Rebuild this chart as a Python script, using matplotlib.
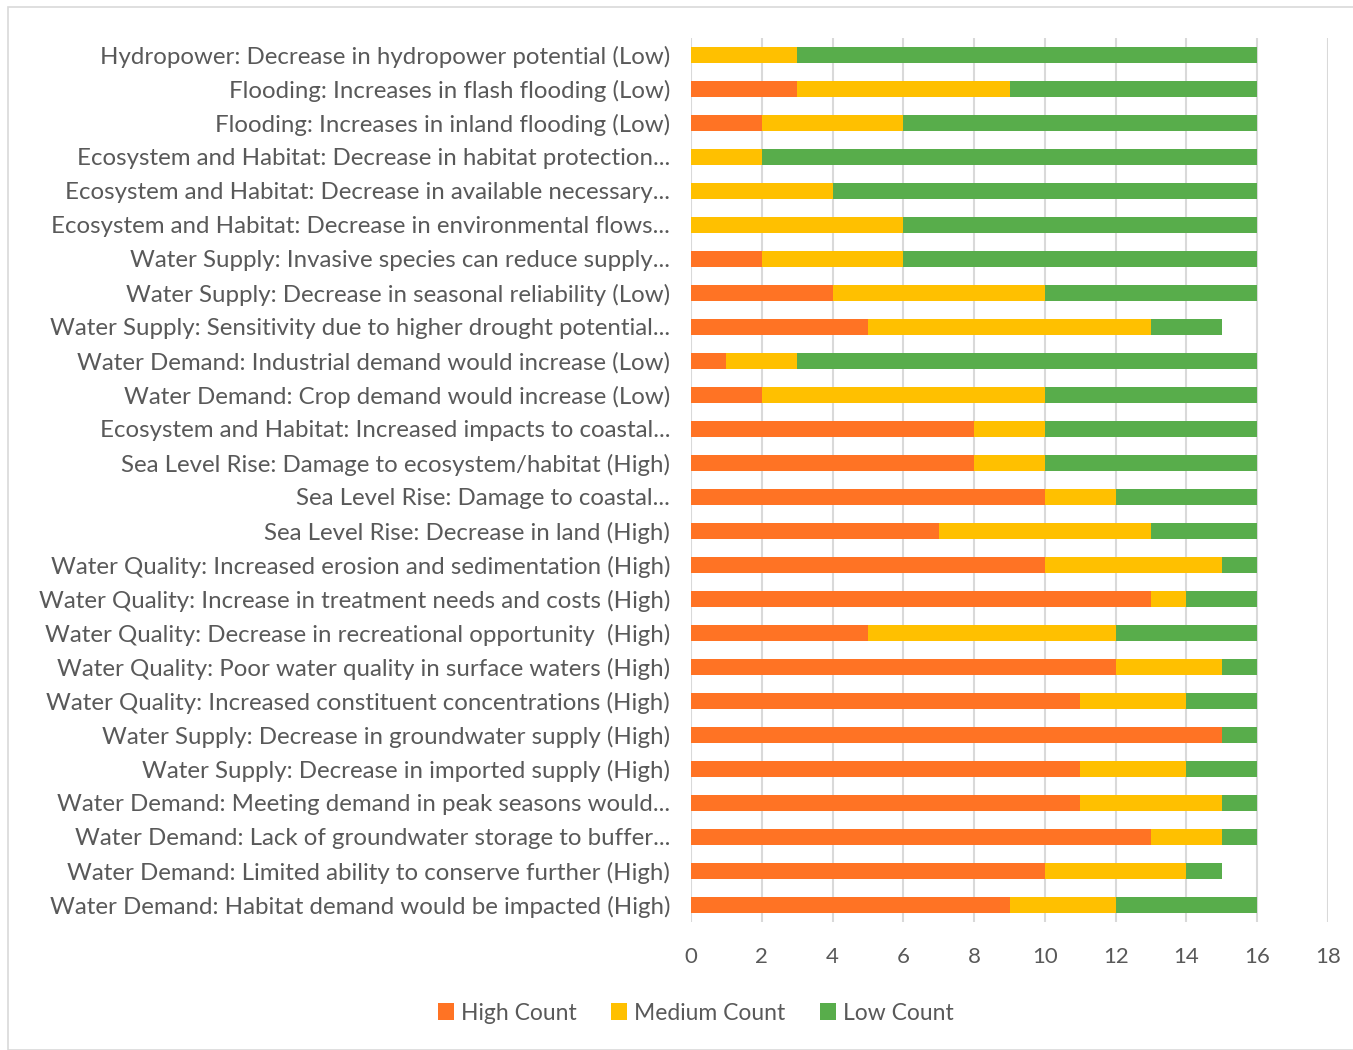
import matplotlib.pyplot as plt
from matplotlib.patches import Rectangle
import numpy as np

# categories listed top to bottom as they appear in the chart
categories = [
    "Hydropower: Decrease in hydropower potential (Low)",
    "Flooding: Increases in flash flooding (Low)",
    "Flooding: Increases in inland flooding (Low)",
    "Ecosystem and Habitat: Decrease in habitat protection...",
    "Ecosystem and Habitat: Decrease in available necessary...",
    "Ecosystem and Habitat: Decrease in environmental flows...",
    "Water Supply: Invasive species can reduce supply...",
    "Water Supply: Decrease in seasonal reliability (Low)",
    "Water Supply: Sensitivity due to higher drought potential...",
    "Water Demand: Industrial demand would increase (Low)",
    "Water Demand: Crop demand would increase (Low)",
    "Ecosystem and Habitat: Increased impacts to coastal...",
    "Sea Level Rise: Damage to ecosystem/habitat (High)",
    "Sea Level Rise: Damage to coastal...",
    "Sea Level Rise: Decrease in land (High)",
    "Water Quality: Increased erosion and sedimentation (High)",
    "Water Quality: Increase in treatment needs and costs (High)",
    "Water Quality: Decrease in recreational opportunity  (High)",
    "Water Quality: Poor water quality in surface waters (High)",
    "Water Quality: Increased constituent concentrations (High)",
    "Water Supply: Decrease in groundwater supply (High)",
    "Water Supply: Decrease in imported supply (High)",
    "Water Demand: Meeting demand in peak seasons would...",
    "Water Demand: Lack of groundwater storage to buffer...",
    "Water Demand: Limited ability to conserve further (High)",
    "Water Demand: Habitat demand would be impacted (High)",
]
high_count = [0, 3, 2, 0, 0, 0, 2, 4, 5, 1, 2, 8, 8, 10, 7, 10, 13, 5, 12, 11, 15, 11, 11, 13, 10, 9]
medium_count = [3, 6, 4, 2, 4, 6, 4, 6, 8, 2, 8, 2, 2, 2, 6, 5, 1, 7, 3, 3, 0, 3, 4, 2, 4, 3]
low_count = [13, 7, 10, 14, 12, 10, 10, 6, 2, 13, 6, 6, 6, 4, 3, 1, 2, 4, 1, 2, 1, 2, 1, 1, 1, 4]

text_color = "#595959"
plt.rcParams['font.family'] = ['Lato', 'DejaVu Sans']

fig = plt.figure(figsize=(13.53, 10.5), dpi=100)
ax = fig.add_axes([691 / 1353, 1 - 922 / 1050, (1328 - 691) / 1353, (922 - 38) / 1050])

# chart frame
fig.patches.append(Rectangle((8 / 1353, 0), 1.0, 1 - 7 / 1050, transform=fig.transFigure,
                             fill=False, edgecolor="#D9D9D9", linewidth=1.2))

y = np.arange(len(categories))
h = np.array(high_count)
m = np.array(medium_count)
lo = np.array(low_count)
ax.barh(y, h, height=0.45, color="#FF7324", label="High Count", zorder=3)
ax.barh(y, m, height=0.45, left=h, color="#FFC000", label="Medium Count", zorder=3)
ax.barh(y, lo, height=0.45, left=h + m, color="#58AD4B", label="Low Count", zorder=3)

ax.set_xlim(0, 18)
ax.set_ylim(len(categories) - 0.5, -0.5)
ax.set_xticks(range(0, 19, 2))
ax.set_yticks(y)
ax.set_yticklabels(categories)
ax.xaxis.grid(True, color="#D9D9D9", linewidth=1.5, zorder=0)
for s in ax.spines.values():
    s.set_visible(False)
ax.tick_params(axis='x', length=0, labelsize=16, colors=text_color, pad=18)
ax.tick_params(axis='y', length=0, labelsize=17.3, colors=text_color, pad=15)

fig.legend(loc='center', bbox_to_anchor=(696 / 1353, 1 - 1013 / 1050), ncol=3, frameon=False,
           fontsize=16.5, labelcolor=text_color, handlelength=0.7, handleheight=0.7,
           handletextpad=0.3, columnspacing=1.5)

fig.savefig("out.png", dpi=100)
